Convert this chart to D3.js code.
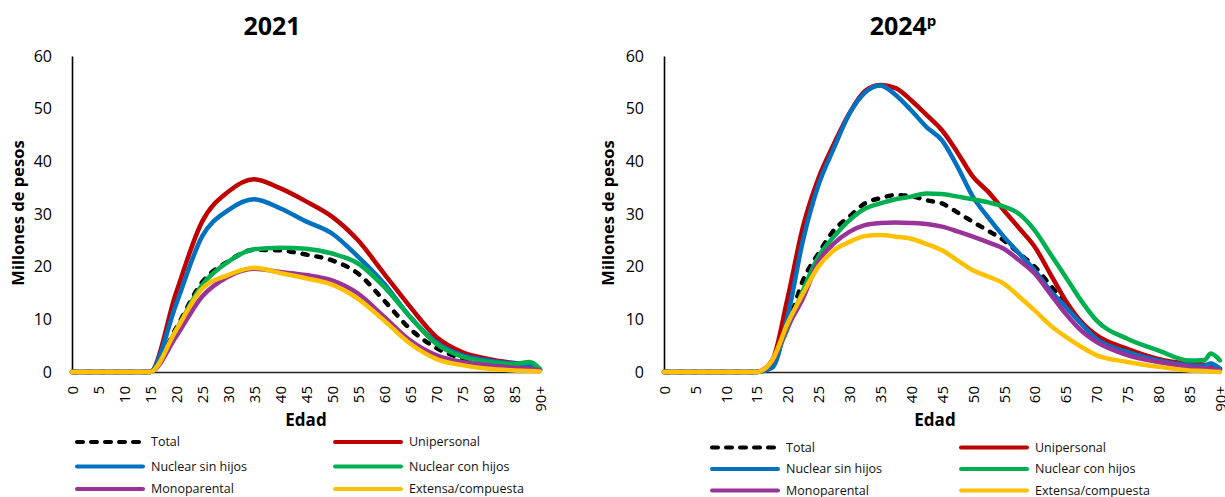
<!DOCTYPE html>
<html>
<head>
<meta charset="utf-8">
<script src="https://cdn.jsdelivr.net/npm/d3@7"></script>
<style>
  html, body { margin: 0; padding: 0; background: #fff; }
  svg { display: block; font-family: "Open Sans", "Noto Sans", sans-serif; }
</style>
</head>
<body>
<svg id="chart" width="1225" height="497"></svg>
<script>
// ---------- DATA ----------
const seriesNames = ["Total", "Unipersonal", "Nuclear sin hijos", "Nuclear con hijos", "Monoparental", "Extensa/compuesta"];
const tickLabels = ["0","5","10","15","20","25","30","35","40","45","50","55","60","65","70","75","80","85","90+"];
const tickAges = [0,5,10,15,20,25,30,35,40,45,50,55,60,65,70,75,80,85,90];
const yTicks = [0,10,20,30,40,50,60];

// 2021 panel (age in years, values in millones de pesos)
const ages2021 = [0,5,10,15,20,25,30,35,40,45,50,55,60,65,70,75,80,85,88,90];
const total2021        = [0,0,0,0,8.3,17.0,21.0,23.2,23.1,22.3,21.2,18.7,13.6,8.2,4.6,2.6,1.6,1.1,0.9,0.4];
const unipersonal2021  = [0,0,0,0,15.0,28.5,34.2,36.6,34.9,32.4,29.5,25.0,18.7,12.4,6.7,3.8,2.5,1.7,1.3,0.4];
const nuclearSin2021   = [0,0,0,0,12.8,25.7,30.7,32.8,31.1,28.6,26.3,21.9,16.8,10.5,5.7,3.2,2.2,1.6,1.3,0.4];
const nuclearCon2021   = [0,0,0,0,7.9,16.5,20.9,23.3,23.6,23.4,22.5,20.6,16.2,10.5,5.4,2.9,1.9,1.5,1.9,0.6];
const monoparental2021 = [0,0,0,0,6.7,14.3,18.1,19.6,19.0,18.4,17.4,14.9,10.5,6.0,3.2,1.9,1.3,0.8,0.6,0.3];
const extensa2021      = [0,0,0,0,7.9,15.8,18.4,19.8,18.8,17.8,16.6,13.9,9.8,5.4,2.5,1.3,0.6,0.3,0.2,0.1];

// 2024p panel
const ages2024 = [0,5,10,15,17.5,20,22.5,25,27.5,30,32.5,35,37.5,40,42.5,45,47.5,50,52.5,55,57.5,60,62.5,65,67.5,70,75,80,85,87.5,88.5,90];
const total2024        = [0,0,0,0,2.0,8.6,17.4,22.5,26.9,29.5,32.0,33.0,33.6,33.4,32.6,32.0,30.3,28.5,26.8,25.0,22.5,20.0,16.5,13.0,9.5,6.5,3.6,2.0,1.2,1.0,1.0,0.8];
const unipersonal2024  = [0,0,0,0,2.2,14.0,27.6,36.8,43.3,49.1,53.3,54.5,53.9,51.6,48.8,45.9,41.7,37.1,34.2,30.7,27.3,23.8,18.7,13.6,9.6,7.0,4.4,2.5,1.6,1.4,1.2,0.6];
const nuclearSin2024   = [0,0,0,0,0.8,10.5,25.0,35.5,42.5,49.0,53.0,54.4,52.6,49.7,46.5,44.0,39.0,33.3,29.3,25.7,22.5,19.3,15.5,12.4,9.2,6.3,3.8,2.2,1.3,1.2,1.6,0.6];
const nuclearCon2024   = [0,0,0,0,2.0,8.2,15.5,21.9,25.7,28.8,31.0,32.0,32.8,33.3,33.9,33.8,33.3,32.8,32.2,31.4,30.0,26.9,22.5,18.1,13.6,9.8,6.3,4.1,2.2,2.3,3.5,2.2];
const monoparental2024 = [0,0,0,0,2.0,8.6,14.0,20.9,24.4,26.6,27.9,28.3,28.4,28.3,28.1,27.6,26.7,25.7,24.6,23.4,21.2,18.7,14.9,11.1,7.9,5.7,3.2,1.9,1.0,0.7,0.6,0.3];
const extensa2024      = [0,0,0,0,2.2,9.2,14.9,20.0,23.1,24.7,25.8,26.0,25.7,25.3,24.3,23.1,21.2,19.3,18.1,16.8,14.3,11.7,8.9,6.7,4.8,3.2,1.9,1.0,0.3,0.2,0.1,0.0];

// ---------- STYLES / LAYOUT ----------
const colors = ["#000000", "#C00000", "#0070C0", "#00B050", "#993399", "#FFC000"];
const panels = [
  { title: "2021", sup: "", ages: ages2021,
    series: [total2021, unipersonal2021, nuclearSin2021, nuclearCon2021, monoparental2021, extensa2021],
    x0: 72, x1: 540, titleX: 272, yLabelX: 18, edadX: 306,
    legCols: [75, 333], legLen: 70, legRows: [442, 466.5, 489] },
  { title: "2024", sup: "p", ages: ages2024,
    series: [total2024, unipersonal2024, nuclearSin2024, nuclearCon2024, monoparental2024, extensa2024],
    x0: 664, x1: 1220, titleX: 903, yLabelX: 608, edadX: 935,
    legCols: [710, 959], legLen: 70, legRows: [447.5, 469, 490.5] }
];
const yBottom = 372, yTop = 56;

const svg = d3.select("#chart");

panels.forEach(p => {
  const g = svg.append("g");
  const x = d3.scaleLinear().domain([0, 90]).range([p.x0, p.x1]);
  const y = d3.scaleLinear().domain([0, 60]).range([yBottom, yTop]);

  // title
  const t = g.append("text")
    .attr("x", p.titleX).attr("y", 35)
    .attr("text-anchor", "middle")
    .style("font-size", "25px").style("font-weight", "700")
    .text(p.title);
  if (p.sup) {
    t.append("tspan").attr("dy", "-9").style("font-size", "15px").text(p.sup);
  }

  // y axis
  const yAxis = d3.axisLeft(y).tickValues(yTicks).tickSize(0).tickPadding(20);
  const ya = g.append("g").attr("transform", `translate(${p.x0},0)`).call(yAxis);
  ya.select(".domain").attr("stroke", "#000").attr("stroke-width", 1.6);
  ya.selectAll("text").style("font-size", "16px").attr("fill", "#000")
    .style("font-family", "'Open Sans', sans-serif");

  // x axis
  const xAxis = d3.axisBottom(x).tickValues(tickAges).tickSize(0)
    .tickFormat((d, i) => tickLabels[i]);
  const xa = g.append("g").attr("transform", `translate(0,${yBottom})`).call(xAxis);
  xa.select(".domain").attr("stroke", "#222").attr("stroke-width", 1.6);
  xa.selectAll("text")
    .attr("transform", "rotate(-90)")
    .attr("x", -14).attr("y", 0).attr("dy", "0.35em")
    .attr("text-anchor", "end")
    .style("font-size", "15px").attr("fill", "#000")
    .style("font-family", "'Open Sans', sans-serif");

  // axis titles
  g.append("text")
    .attr("transform", `translate(${p.yLabelX + 6},213) rotate(-90)`)
    .attr("text-anchor", "middle")
    .style("font-size", "16.5px").style("font-weight", "700")
    .text("Millones de pesos");
  g.append("text")
    .attr("x", p.edadX).attr("y", 426)
    .attr("text-anchor", "middle")
    .style("font-size", "17px").style("font-weight", "700")
    .text("Edad");

  // lines
  const line = d3.line()
    .x((d, i) => x(p.ages[i]))
    .y(d => y(d))
    .curve(d3.curveMonotoneX);
  p.series.forEach((vals, si) => {
    const path = g.append("path")
      .datum(vals)
      .attr("d", line)
      .attr("fill", "none")
      .attr("stroke", colors[si])
      .attr("stroke-width", 4.5)
      .attr("stroke-linejoin", "round")
      .attr("stroke-linecap", "round");
    if (si === 0) path.attr("stroke-dasharray", "5,9");
  });

  // legend
  seriesNames.forEach((name, si) => {
    const col = si % 2, row = Math.floor(si / 2);
    const lx = p.legCols[col], ly = p.legRows[row];
    const l = g.append("line")
      .attr("x1", lx + 2).attr("x2", lx + p.legLen - 2)
      .attr("y1", ly).attr("y2", ly)
      .attr("stroke", colors[si]).attr("stroke-width", 4)
      .attr("stroke-linecap", "round");
    if (si === 0) l.attr("stroke-dasharray", "6,8");
    g.append("text")
      .attr("x", lx + p.legLen + 6).attr("y", ly).attr("dy", "0.35em")
      .style("font-size", "12.5px").attr("fill", "#111")
      .text(name);
  });
});
</script>
</body>
</html>
